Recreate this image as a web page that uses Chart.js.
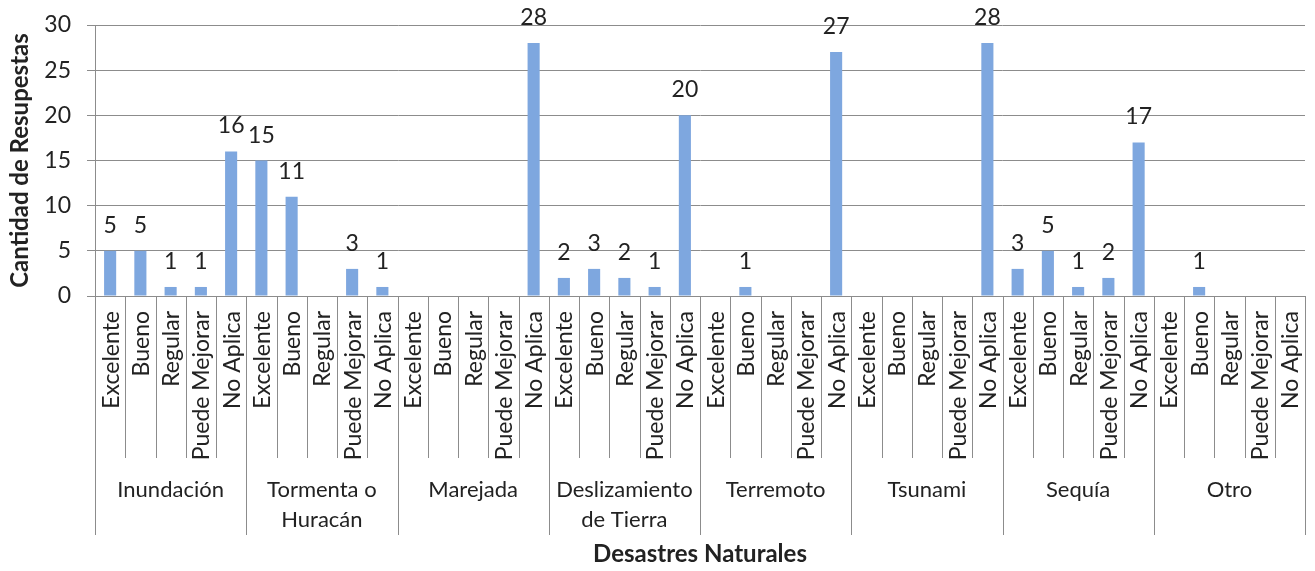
<!DOCTYPE html>
<html>
<head>
<meta charset="utf-8">
<script src="https://cdn.jsdelivr.net/npm/chart.js@4.4.1/dist/chart.umd.min.js"></script>
<style>
  html, body { margin: 0; padding: 0; background: #fff; }
  #wrap { width: 1315px; height: 571px; }
</style>
</head>
<body>
<div id="wrap"><canvas id="chart" width="1315" height="571"></canvas></div>
<script>
const ratings = ['Excelente', 'Bueno', 'Regular', 'Puede Mejorar', 'No Aplica'];
const disasters = [
  ['Inundación'],
  ['Tormenta o', 'Huracán'],
  ['Marejada'],
  ['Deslizamiento', 'de Tierra'],
  ['Terremoto'],
  ['Tsunami'],
  ['Sequía'],
  ['Otro']
];
const inundacion = [5, 5, 1, 1, 16];
const tormenta = [15, 11, 0, 3, 1];
const marejada = [0, 0, 0, 0, 28];
const deslizamiento = [2, 3, 2, 1, 20];
const terremoto = [0, 1, 0, 0, 27];
const tsunami = [0, 0, 0, 0, 28];
const sequia = [3, 5, 1, 2, 17];
const otro = [0, 1, 0, 0, 0];
const yTicks = [0, 5, 10, 15, 20, 25, 30];

const FONT = 'Lato, "Open Sans", sans-serif';
const TEXT = '#222';
const LINE = '#8c8c8c';

const values = [inundacion, tormenta, marejada, deslizamiento, terremoto, tsunami, sequia, otro].flat();
const labels = disasters.flatMap(d => ratings.map(r => r + '|' + d.join(' ')));

// value labels above bars, rotated rating labels and the grouped category axis
const groupAxis = {
  id: 'groupAxis',
  afterDraw(chart) {
    const ctx = chart.ctx;
    const x = chart.scales.x;
    const area = chart.chartArea;
    const n = labels.length;
    ctx.save();

    // numbers on top of bars
    const meta = chart.getDatasetMeta(0);
    ctx.fillStyle = TEXT;
    ctx.font = '23px ' + FONT;
    ctx.textAlign = 'center';
    ctx.textBaseline = 'alphabetic';
    meta.data.forEach((bar, i) => {
      if (!values[i]) return;
      ctx.fillText(String(values[i]), bar.x, bar.y - 18);
    });

    // separators
    ctx.strokeStyle = LINE;
    ctx.lineWidth = 1;
    for (let i = 0; i <= n; i++) {
      const px = Math.round(x.getPixelForValue(i - 0.5)) + 0.5;
      const group = i % ratings.length === 0;
      ctx.beginPath();
      ctx.moveTo(px, area.bottom);
      ctx.lineTo(px, group ? 535 : 458);
      ctx.stroke();
    }

    // rotated rating labels
    ctx.font = '23px ' + FONT;
    ctx.textAlign = 'right';
    ctx.textBaseline = 'middle';
    for (let i = 0; i < n; i++) {
      const px = x.getPixelForValue(i);
      ctx.save();
      ctx.translate(px + 1, area.bottom + 15);
      ctx.rotate(-Math.PI / 2);
      ctx.fillText(ratings[i % ratings.length], 0, 0);
      ctx.restore();
    }

    // disaster group labels
    ctx.font = '22px ' + FONT;
    ctx.textAlign = 'center';
    disasters.forEach((lines, g) => {
      const a = x.getPixelForValue(g * ratings.length - 0.5);
      const b = x.getPixelForValue((g + 1) * ratings.length - 0.5);
      lines.forEach((t, k) => ctx.fillText(t, (a + b) / 2, 490 + k * 30));
    });
    ctx.restore();
  }
};

new Chart(document.getElementById('chart'), {
  type: 'bar',
  data: {
    labels: labels,
    datasets: [{
      data: values,
      backgroundColor: '#7ea7df',
      barPercentage: 0.4,
      categoryPercentage: 1
    }]
  },
  options: {
    responsive: false,
    animation: false,
    layout: { padding: { top: 25, right: 10, left: 0, bottom: 0 } },
    plugins: { legend: { display: false }, tooltip: { enabled: false } },
    scales: {
      x: {
        afterFit: s => { s.height = 275; },
        grid: { display: false },
        border: { display: true, color: LINE, width: 1 },
        ticks: { display: false },
        title: {
          display: true,
          text: 'Desastres Naturales',
          color: TEXT,
          font: { family: FONT, size: 24, weight: 'bold' },
          padding: { top: 0, bottom: 2 }
        }
      },
      y: {
        min: 0,
        max: 30,
        afterFit: s => {
          s.width = 95;
          s.paddingTop = 0;
          s.paddingBottom = 0;
        },
        afterBuildTicks: s => { s.ticks = yTicks.map(v => ({ value: v })); },
        grid: { color: LINE, lineWidth: 1, tickLength: 8 },
        border: { display: true, color: LINE, width: 1 },
        ticks: { color: TEXT, font: { family: FONT, size: 23 }, padding: 16 },
        title: {
          display: true,
          text: 'Cantidad de Resupestas',
          color: TEXT,
          font: { family: FONT, size: 24, weight: 'bold' },
          padding: { top: 6, bottom: 8 }
        }
      }
    }
  },
  plugins: [groupAxis]
});
</script>
</body>
</html>
